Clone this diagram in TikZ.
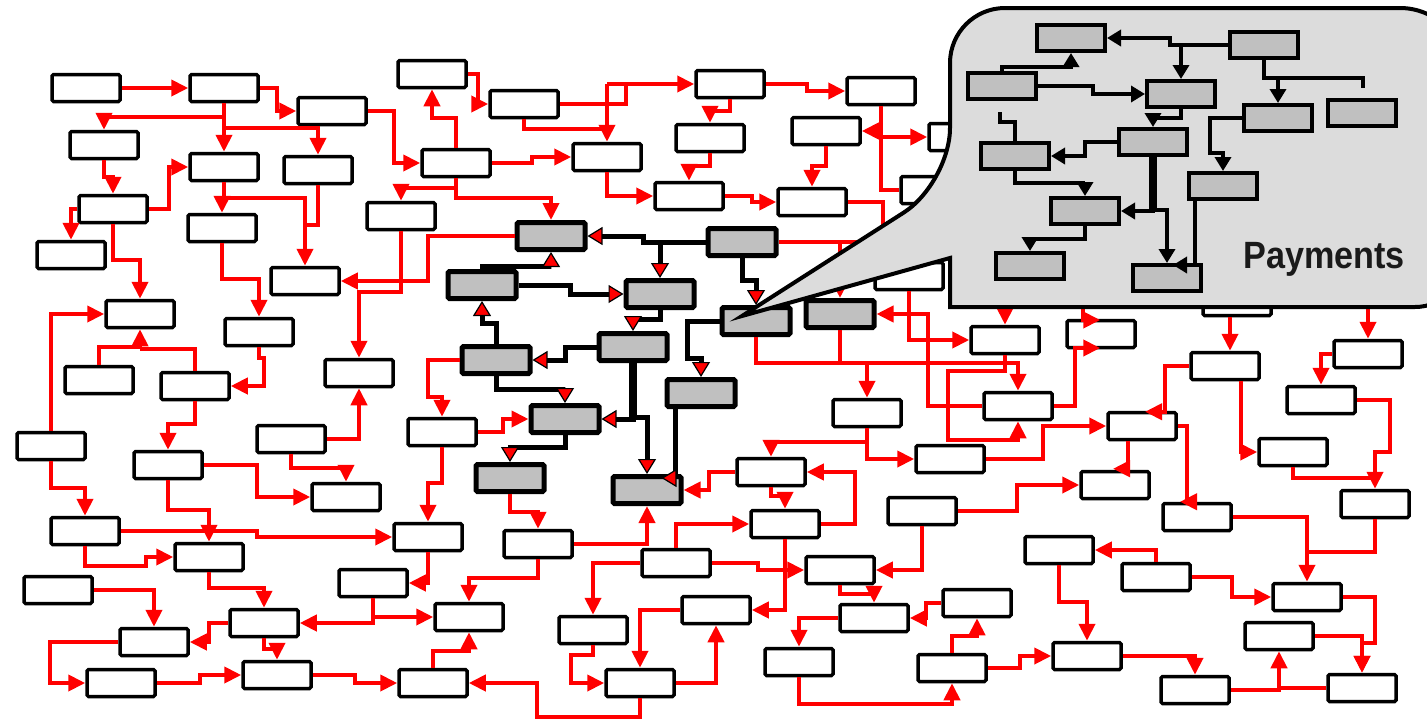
\documentclass[tikz,border=0pt]{standalone}
\usepackage{fontspec}
\usepackage{graphicx}
\newfontfamily\labelfont{Liberation Sans}
\usetikzlibrary{arrows.meta,calc}
\definecolor{boxgray}{HTML}{C0C0C0}
\definecolor{bubblegray}{HTML}{DCDCDC}
\definecolor{inkgray}{HTML}{1A1A1A}
\tikzset{
  wbox/.style={draw, line width=3.5pt, rounded corners=1.5pt, fill=white,
    minimum width=68pt, minimum height=27pt, inner sep=0pt},
  gbox/.style={wbox, line width=5pt, fill=boxgray},
  pbox/.style={draw, line width=4pt, fill=boxgray, minimum width=68pt,
    minimum height=26pt, inner sep=0pt},
  redline/.style={red, line width=4pt},
  redarrow/.style={redline, -{Triangle[length=17pt,width=16pt]}},
  blkline/.style={black, line width=5pt},
  blkarrow/.style={blkline, -{Triangle[length=15pt,width=18pt,fill=red,line width=1.2pt]}},
  payline/.style={black, line width=4pt},
  payarrow/.style={payline, -{Triangle[length=14pt,width=16pt]}},
  bubble/.style={draw, line width=4pt, fill=bubblegray},
}

\begin{document}
\begin{tikzpicture}[x=1pt, y=-1pt]
\useasboundingbox (0,0) rectangle (1427,720);
\clip (0,0) rectangle (1427,720);
\fill[white] (0,0) rectangle (1427,720);

% white boxes
\foreach \n/\x/\y in {
    b1/86/88, b2/224/88, b3/332/111, b4/104/145, b5/224/167, b6/318/170,
    b7/113/209, b8/222/228, b9/71/255, b10/305/281, b11/140/314, b12/259/332,
    b13/99/380, b14/195/386, b15/359/373, b16/51/446, b17/291/439, b18/168/465,
    b19/346/497, b20/85/531, b21/209/557, b22/58/590, b23/154/642, b24/264/623,
    b25/121/683, b26/277/675, b27/373/583, b28/432/74, b29/524/104, b30/456/163,
    b31/607/157, b32/401/216, b34/730/84, b35/710/138, b36/689/196, b40/881/91,
    b41/826/131, b42/963/137, b44/812/202, b45/935/190, b48/909/276, b49/1005/340,
    b51/867/413, b52/1018/406, b53/771/472, b54/950/459, b58/442/432, b62/428/537,
    b63/538/544, b64/469/617, b65/676/563, b66/593/630, b67/716/610, b68/433/683,
    b69/640/683, b70/785/524, b71/922/511, b72/840/570, b73/874/618, b74/977/603,
    b75/799/662, b76/952/668, b77/1059/550, b78/1087/656, b79/1101/334, b80/1237/302,
    b81/1225/366, b82/1368/354, b83/1321/400, b84/1142/426, b85/1293/452, b86/1115/485,
    b87/1375/504, b88/1197/517, b90/1156/577, b91/1307/597, b92/1279/636, b94/1195/690,
    b95/1362/688}
  \node[wbox] (\n) at (\x,\y) {};

% grey cluster
\foreach \n/\x/\y in {
    b33/551/236, b37/482/285, b38/742/242, b39/660/294, b46/756/321, b47/840/314,
    b50/701/393, b55/496/360, b56/633/347, b59/565/419, b60/510/478, b61/647/490}
  \node[gbox] (\n) at (\x,\y) {};

% red connectors, top left
\draw[redarrow] (b1.east) -- (b2.west);
\draw[redarrow] (b2.east) -- ++(17,0) |- (b3.west);
\draw[redarrow] (b2.south) -- (b5.north);
\draw[redarrow] ($(b2.south)+(0,14)$) -| (b4.north);
\draw[redarrow] ($(b2.south)+(0,25)$) -| (b6.north);
\draw[redarrow] (b4.south) -- ++(0,17) -| (b7.north);
\draw[redarrow] (b7.east) -- ++(20,0) |- (b5.west);
\draw[redarrow] (b7.west) -| (b9.north);
\draw[redarrow] (b7.south) -- ++(0,36) -| (b11.north);
\draw[redarrow] (b5.south) -- ++(0,16) -| (b8.north);
\draw[redarrow] ($(b5.south)+(0,16)$) -| (b10.north);
\draw[redline] (b6.south) |- ($(b10.north)+(0,-41)$);
\draw[redarrow] (b8.south) -- ++(0,36) -| (b12.north);
\draw[redarrow] (b33.west) -- ++(-87,0) |- (b10.east);
\draw[redarrow] (b32.south) -- ++(0,61) -| (b15.north);
\draw[redarrow] (b28.east) -- ++(10,0) |- (b29.west);
\draw[redarrow] (b30.north) -- ++(0,-30) -| (b28.south);
\draw[redarrow] (b3.east) -- ++(26,0) |- (b30.west);
\draw[redarrow] (b30.east) -- ++(40,0) |- (b31.west);
\draw[redline] (b29.east) -- ++(66,0) -- ++(0,-20);
\coordinate (j1) at (b31.north |- b34.west);
\draw[redarrow] (j1) -- (b34.west);
\draw[redarrow] (j1) -- (b31.north);
\draw[redline] (b29.south) |- ($(b31.north)+(0,-13)$);
\draw[redarrow] (b31.south) |- (b36.west);
\draw[redarrow] (b30.south) -- ++(0,20) -| (b33.north);
\draw[redarrow] ($(b30.south)+(0,10)$) -| (b32.north);
\draw[redarrow] (b34.south) -- ++(0,12) -| (b35.north);
\draw[redarrow] (b35.south) -- ++(0,13) -| (b36.north);
\draw[redarrow] (b34.east) -- ++(41,0) |- (b40.west);
\draw[redline] (b40.south) |- (b45.west);
\draw[redarrow] (b40.south |- b41.east) -- (b41.east);
\draw[redarrow] (b40.south |- b42.west) -- (b42.west);
\draw[redarrow] (b41.south) -- ++(0,20) -| (b44.north);
\draw[redarrow] (b36.east) -- ++(27,0) |- (b44.west);
\draw[redline] (b44.east) -- ++(35,0) |- (b38.east);
\draw[redarrow] (b47.north |- b38.east) -- (b47.north);

% red connectors, middle
\draw[redarrow] (b46.south) -- ++(0,26) -| (b52.north);
\draw[redline] (b47.south) -- ++(0,33);
\draw[redarrow] ($(b46.south)+(0,26)$) -| (b51.north);
\draw[redarrow] (b48.south) |- (b49.west);
\draw[redarrow] (b52.west) -- ++(-54,0) |- (b47.east);
\draw[redarrow] (b49.south) -- ++(0,16) -| (948,440) -| (b52.south);
\draw[redarrow] (b54.east) -- ++(57,0) |- (b84.west);
\draw[redarrow] (b51.south) |- (b54.west);
\draw[redarrow] ($(b51.south)+(0,14)$) -| (b53.north);
\draw[redarrow] (b70.east) -- ++(34,0) |- (b53.east);
\draw[redarrow] (b53.west) -- ++(-26,0) |- (b61.east);
\draw[redarrow] (b53.south) -- ++(0,9) -| (b70.north);
\draw[redarrow] (b55.west) -- ++(-32,0) -- ++(0,37) -| (b58.north);
\draw[redarrow] (b58.east) -- ++(25,0) |- (b59.west);
\draw[redarrow] (b58.south) -- ++(0,36) -| (b62.north);
\draw[redarrow] (b17.east) -| (b15.south);
\draw[redarrow] (b16.north) |- (b11.west);
\draw[redarrow] (b13.north) -- ++(0,-18) -| (b11.south);
\draw[redline] (b14.north) |- ($(b11.south)+(0,20)$);
\draw[redarrow] (b12.south) -- ++(0,11) -- ++(5,0) |- (b14.east);
\draw[redarrow] (b14.south) -- ++(0,23) -| (b18.north);
\draw[redarrow] (b17.south) -- ++(0,14) -| (b19.north);
\draw[redarrow] (b18.east) -- ++(53,0) |- (b19.west);
\draw[redarrow] (b16.south) -- ++(0,27) -| (b20.north);
\draw[redarrow] (b18.south) -- ++(0,30) -| (b21.north);

% red connectors, bottom left
\draw[redarrow] (b21.south) -- ++(0,16) -| (b24.north);
\draw[redarrow] (b20.east) -- ++(136,0) -- ++(0,6) -- (b62.west);
\draw[redarrow] (b20.south) -- ++(0,20) -- ++(61,0) |- (b21.west);
\draw[redarrow] (b22.east) -| (b23.north);
\draw[redarrow] (b24.west) -- ++(-19,0) |- (b23.east);
\draw[redarrow] (b24.south) -- ++(0,11) -| (b26.north);
\draw[redarrow] (b23.west) -- ++(-68,0) |- (b25.west);
\draw[redarrow] (b25.east) -- ++(43,0) |- (b26.west);
\draw[redarrow] (b26.east) -- ++(42,0) |- (b68.west);
\draw[redarrow] (b27.south) |- (b64.west);
\draw[redarrow] ($(b27.south)+(0,17)$) |- (b24.east);
\draw[redarrow] (b62.south) |- (b27.east);
\draw[redarrow] (b63.south) -- ++(0,19) -| (b64.north);
\draw[redarrow] (b63.east) -| (b61.south);
\draw[redarrow] (b60.south) -- ++(0,18) -| (b63.north);
\draw[redarrow] (b68.north) -- ++(0,-17) -| (b64.south);
\draw[redarrow] (b69.south) -- ++(0,19) -| ($(b68.east)+(68,0)$) -- (b68.east);
\draw[redarrow] (b65.west) -| (b66.north);
\draw[redarrow] (b65.north) |- (b70.west);
\draw[redarrow] (b66.south) -- ++(0,10) -- ++(-22,0) |- (b69.west);
\draw[redarrow] (b67.west) -| (b69.north);
\draw[redarrow] (b69.east) -| (b67.south);

% red connectors, bottom right
\draw[redarrow] (b65.east) -- ++(46,0) |- (b72.west);
\draw[redarrow] (b70.south) |- (b67.east);
\draw[redarrow] (b71.south) |- (b72.east);
\draw[redarrow] (b71.east) -- ++(59,0) |- (b86.west);
\draw[redarrow] (b72.south) -- ++(0,9) -| (b73.north);
\draw[redarrow] (b73.west) -| (b75.north);
\draw[redarrow] (b74.west) -- ++(-15,0) |- (b73.east);
\draw[redarrow] (b76.north) -- ++(0,-17) -| (b74.south);
\draw[redarrow] (b75.south) -- ++(0,27) -| (b76.south);
\draw[redarrow] (b76.east) -- ++(32,0) |- (b78.west);
\draw[redarrow] (b77.south) -- ++(0,37) -| (b78.north);
\draw[redarrow] (b90.north) |- (b77.east);
\draw[redarrow] (b90.east) -- ++(40,0) |- (b91.west);
\draw[redarrow] (b88.east) -| (b91.north);
\draw[redline] (b87.south) |- ($(b91.north)+(0,-30)$);
\draw[redarrow] (b91.east) -- ++(32,0) -- ++(0,46) -| (b95.north);
\draw[redarrow] (b92.east) -| (b95.north);
\draw[redarrow] (b78.east) -| (b94.north);
\draw[redarrow] (b94.east) -| (b92.south);
\draw[redline] (b95.west) -- ++(-47,0);

% red connectors, right
\draw[redarrow] (b84.east) -- ++(9,0) |- ($(b88.north)+(-17,0)$);
\draw[redarrow] ($(b84.south)+(-14,0)$) |- ($(b86.north)+(-2,-1)$);
\draw[redarrow] (b52.east) -- ++(21,0) |- ($(b79.west)+(35,14)$);
\draw[redarrow] ($(b79.north)+(-18,-26)$) |- ($(b79.west)+(35,-14)$);
\draw[redarrow] ($(b80.south)+(-7,0)$) -- ($(b81.north)+(5,0)$);
\draw[redarrow] (b81.west) -- ++(-24,0) |- ($(b84.north)+(3,1)$);
\draw[redarrow] ($(b81.south)+(16,0)$) |- (b85.west);
\draw[redarrow] ($(b82.north)+(0,-30)$) -- (b82.north);
\draw[redarrow] (b82.west) -| (b83.north);
\draw[redarrow] (b83.east) -- ++(33,0) -- ++(0,52) -| (b87.north);
\draw[redline] (b85.south) |- ($(b87.north)+(0,-11)$);
\draw[redarrow] ($(b49.north)+(0,-32)$) -- (b49.north);

% black connectors in the grey cluster
\draw[blkarrow] (b38.west) -- ++(-62,0) |- (b33.east);
\draw[blkarrow] (b39.north |- b38.west) -- (b39.north);
\draw[blkarrow] (b38.south) -- ++(0,22) -| (b46.north);
\draw[blkarrow] (b37.north) -- ++(0,-3) -| (b33.south);
\draw[blkarrow] (b37.east) -- ++(52,0) |- (b39.west);
\draw[blkarrow] (b39.south) -- ++(0,9) -| (b56.north);
\draw[blkarrow] (b56.west) -- ++(-31,0) |- (b55.east);
\draw[blkarrow] (b55.north) -- ++(0,-21) -| (b37.south);
\draw[blkarrow] (b55.south) -- ++(0,13) -| (b59.north);
\draw[blkline, line width=8pt] (b56.south) -- ++(0,54);
\draw[blkarrow] ($(b56.south)+(0,54)$) |- (b59.east);
\draw[blkarrow] ($(b56.south)+(0,54)$) -| (b61.north);
\draw[blkarrow] ($(b50.south)+(-26,0)$) |- ($(b61.north east)+(-22,4)$);
\draw[blkarrow] (b46.west) -- ++(-32,0) -- ++(0,37) -| (b50.north);
\draw[blkarrow] (b59.south) -- ++(0,12) -| (b60.north);

% callout
\draw[bubble] (1200,8) [rounded corners=55pt] -- (950,8) -- (950,183)
  [sharp corners] -- (742,316) -- (950,258) -- (950,307)
  [rounded corners=50pt] -- (1465,307) [rounded corners=65pt] -- (1465,8) -- cycle;

\foreach \n/\x/\y in {
    p1/1071/38, p2/1264/45, p3/1002/86, p4/1181/94, p5/1278/118, p6/1362/113,
    p7/1015/156, p8/1153/142, p9/1223/186, p10/1085/211, p11/1030/266, p12/1167/278}
  \node[pbox] (\n) at (\x,\y) {};

\draw[payarrow] (p2.west) -- ++(-58,0) |- (p1.east);
\draw[payarrow] (p4.north |- p2.west) -- (p4.north);
\draw[payarrow] (p3.north) -- ++(0,-4) -| (p1.south);
\draw[payarrow] (p3.east) -- ++(55,0) |- (p4.west);
\draw[payline] (p2.south) -- ++(0,18) -- ++(99,0) -- ++(0,10);
\draw[payarrow] ($(p2.south)+(0,18)$) -| (p5.north);
\draw[payarrow] (p4.south) -- ++(0,9) -| (p8.north);
\draw[payarrow] (p8.west) -- ++(-32,0) |- (p7.east);
\draw[payline] ($(p3.south)+(-2,11)$) -- ++(0,10) -| (p7.north);
\draw[payarrow] (p7.south) -- ++(0,12) -| (p10.north);
\draw[payline, line width=8pt] (p8.south) -- ++(0,53);
\draw[payarrow] ($(p8.south)+(0,53)$) |- (p10.east);
\draw[payarrow] ($(p8.south)+(0,53)$) -| (p12.north);
\draw[payarrow] (p5.west) -- ++(-32,0) -- ++(0,35) -| (p9.north);
\draw[payarrow] ($(p9.south)+(-28,0)$) |- ($(p12.north east)+(-30,2)$);
\draw[payarrow] (p10.south) -- ++(0,13) -| (p11.north);

\node[anchor=base west, text=inkgray, inner sep=0pt] (paylabel) at (1243,268)
  {\scalebox{0.9}[1]{\labelfont\bfseries\fontsize{38}{40}\selectfont Payments}};
\end{tikzpicture}
\end{document}
